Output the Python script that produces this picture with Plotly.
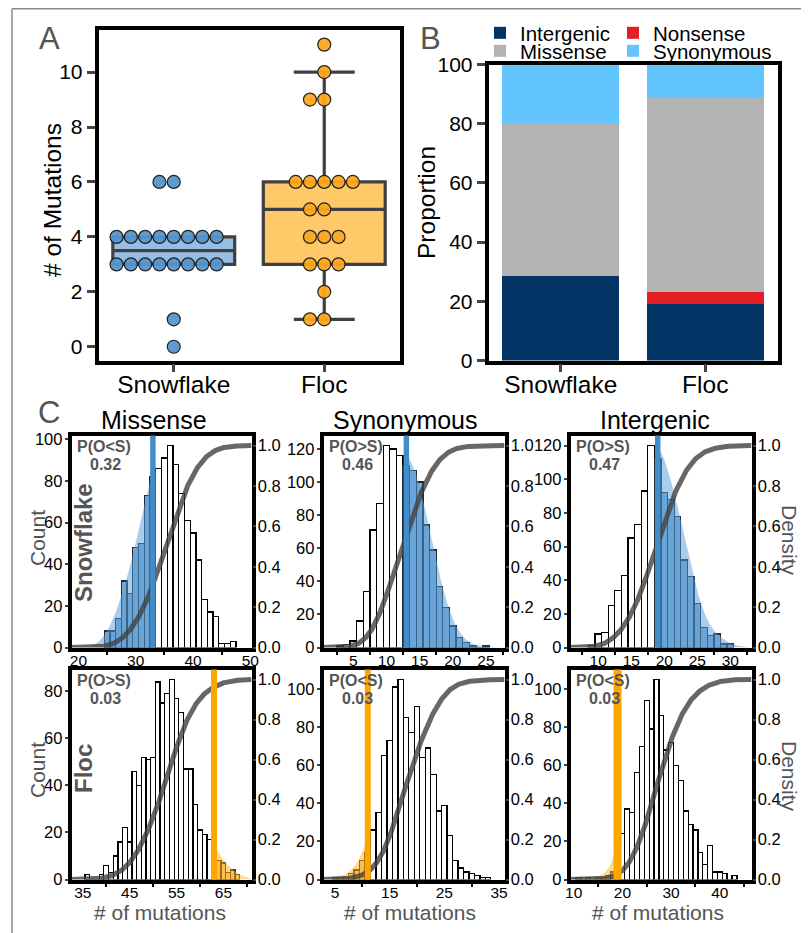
import math
import numpy as np
import plotly.graph_objects as go

# page has an 8px body margin: the figure fills the rest of the 809x933 window
OFF = 8
W, H = 809 - OFF, 933 - OFF

# ---------------- data ----------------
groups = ["Snowflake", "Floc"]
snowflake_mutations = [0, 1, 3, 3, 3, 3, 3, 3, 3, 3, 4, 4, 4, 4, 4, 4, 4, 4, 6, 6]
floc_mutations = [1, 1, 2, 3, 3, 3, 4, 4, 4, 5, 5, 6, 6, 6, 6, 6, 9, 9, 10, 11]

mutation_types = ["Intergenic", "Nonsense", "Missense", "Synonymous"]
snowflake_percent = [28.4, 0.0, 52.0, 19.6]
floc_percent = [19.1, 4.1, 65.5, 11.3]

sim_types = ["Missense", "Synonymous", "Intergenic"]

sf_missense_first_bin = 25
sf_missense_counts = [8, 8, 14, 32, 26, 48, 50, 73, 82, 86, 91, 97, 88, 74, 61, 55, 42, 23, 17, 15, 2, 2, 3]
sf_synonymous_first_bin = 3
sf_synonymous_counts = [1, 2, 4, 16, 34, 71, 87, 122, 120, 116, 110, 107, 100, 74, 59, 37, 24, 13, 6, 3, 1, 0, 1]
sf_intergenic_first_bin = 9
sf_intergenic_counts = [1, 8, 9, 25, 34, 43, 65, 73, 93, 120, 112, 92, 88, 78, 52, 42, 26, 12, 7, 8, 2, 2]

floc_missense_first_bin = 36
floc_missense_counts = [2, 0, 0, 2, 6, 3, 10, 16, 22, 16, 46, 40, 52, 51, 52, 84, 75, 79, 85, 77, 71, 47, 47,
                        32, 21, 19, 17, 12, 8, 7, 3, 4, 2]
floc_synonymous_first_bin = 5
floc_synonymous_counts = [1, 1, 1, 3, 5, 10, 14, 26, 35, 65, 73, 101, 105, 85, 77, 91, 64, 69, 55, 36, 39, 23,
                          10, 6, 4, 3, 2, 1, 1]
floc_intergenic_first_bin = 11
floc_intergenic_counts = [1, 0, 1, 0, 1, 1, 2, 4, 5, 24, 37, 35, 56, 70, 94, 79, 105, 86, 68, 72, 60, 52, 36,
                          29, 26, 14, 8, 18, 4, 4, 3, 0, 2]

sf_observed = [33, 13, 19]
floc_observed = [63, 11, 19]
sf_p_labels = ["P(O<S)", "P(O>S)", "P(O>S)"]
sf_p_values = ["0.32", "0.46", "0.47"]
floc_p_labels = ["P(O>S)", "P(O<S)", "P(O<S)"]
floc_p_values = ["0.03", "0.03", "0.03"]

# ---------------- style ----------------
GRAY = "#555555"
FONT = "Liberation Sans, Arial, sans-serif"
type_colors = ["#033466", "#e31e24", "#b3b3b3", "#63c5fe"]
box_fill = ["rgba(120,172,218,0.78)", "rgba(255,192,80,0.85)"]
point_color = ["rgba(84,150,206,0.95)", "rgba(253,168,30,0.95)"]
tail_bar = ["rgba(70,140,200,0.72)", "rgba(255,170,20,0.55)"]
tail_fill = ["rgba(85,155,215,0.5)", "rgba(255,170,20,0.45)"]
obs_color = ["rgb(66,140,200)", "rgb(255,165,0)"]

sf_xranges = [[18.8, 50.2], [0.5, 27.8], [5.8, 33.2]]
floc_xranges = [[32.6, 71.0], [2.9, 36.0], [9.35, 46.5]]
sf_xticks = [(20, 10), (5, 5), (10, 5)]
floc_xticks = [(35, 10), (5, 10), (10, 10)]
col_px = [(70, 253), (322, 506), (569, 753)]
row_px = [(434, 649), (668, 881)]
obs_widths = [[5.5, 5.5, 5.5], [6, 6, 8]]


def fx(px):
    return (px - OFF) / W


def fy(py):
    return 1 - (py - OFF) / H


def dom_x(l, r):
    return [fx(l + 1.5), fx(r - 1.5)]


def dom_y(t, b):
    return [fy(b - 1.5), fy(t + 1.5)]


def swarm_offsets(values, step):
    seq = [0]
    k = 1
    while len(seq) < 60:
        seq += [-k, k]
        k += 1
    seen = {}
    offs = []
    for v in values:
        c = seen.get(v, 0)
        seen[v] = c + 1
        offs.append(seq[c] * step)
    return offs


erf = np.vectorize(math.erf)

fig = go.Figure()
annotations = []
shapes = []

# ---------------- Panel A ----------------
for i, vals in enumerate([snowflake_mutations, floc_mutations]):
    fig.add_trace(go.Box(
        y=vals, x=[i] * len(vals), width=0.81, boxpoints="outliers",
        marker=dict(opacity=0, size=1),
        fillcolor=box_fill[i], line=dict(color="#404040", width=3.2),
        whiskerwidth=0.5, showlegend=False, xaxis="x", yaxis="y", hoverinfo="skip"))
    offs = swarm_offsets(vals, 0.095)
    fig.add_trace(go.Scatter(
        x=[i + o for o in offs], y=vals, mode="markers",
        marker=dict(size=13, color=point_color[i], line=dict(color="#222222", width=1.2)),
        showlegend=False, xaxis="x", yaxis="y"))

# ---------------- Panel B ----------------
for k, t in enumerate(mutation_types):
    fig.add_trace(go.Bar(
        x=groups, y=[snowflake_percent[k], floc_percent[k]], name=t,
        marker=dict(color=type_colors[k], line=dict(width=0)), width=0.81,
        legendwidth=88 if k % 2 == 0 else 140,
        xaxis="x2", yaxis="y2", legend="legend" if k < 2 else "legend2"))

# ---------------- Panel C ----------------
sim_sets = [
    [(sf_missense_first_bin, sf_missense_counts), (sf_synonymous_first_bin, sf_synonymous_counts),
     (sf_intergenic_first_bin, sf_intergenic_counts)],
    [(floc_missense_first_bin, floc_missense_counts), (floc_synonymous_first_bin, floc_synonymous_counts),
     (floc_intergenic_first_bin, floc_intergenic_counts)],
]
observed = [sf_observed, floc_observed]
p_labels = [sf_p_labels, floc_p_labels]
p_values = [sf_p_values, floc_p_values]
xranges = [sf_xranges, floc_xranges]
xticks = [sf_xticks, floc_xticks]

layout_axes = {}
for r in range(2):
    for c in range(3):
        idx = r * 3 + c
        xa = 3 + idx
        ya = 3 + idx
        ya2 = 9 + idx
        first, counts = sim_sets[r][c]
        counts = np.array(counts)
        bins = first + np.arange(len(counts))
        obs = observed[r][c]
        left_tail = "<" in p_labels[r][c]
        mask = bins <= obs if left_tail else bins >= obs
        xr = xranges[r][c]

        # smoothed density of the simulated counts (kernel estimate) and its cumulative curve
        samples = np.repeat(bins, counts).astype(float)
        n = len(samples)
        bw = 1.5 * 1.06 * samples.std(ddof=1) * n ** (-0.2)
        grid = np.linspace(xr[0], xr[1], 500)
        z = (grid[:, None] - samples[None, :]) / bw
        dens = np.exp(-0.5 * z ** 2).sum(axis=1)
        scale = counts.max() / dens.max()
        dens = dens * scale
        cdf = 0.5 * (1 + erf(z / math.sqrt(2))).mean(axis=1)

        tmask = grid <= obs if left_tail else grid >= obs
        tx = list(grid[tmask])
        ty = list(dens[tmask])
        obs_d = float(np.exp(-0.5 * ((obs - samples) / bw) ** 2).sum() * scale)
        if left_tail:
            tx.append(obs)
            ty.append(obs_d)
        else:
            tx.insert(0, obs)
            ty.insert(0, obs_d)

        fig.add_trace(go.Bar(
            x=bins[~mask], y=counts[~mask], width=1.0,
            marker=dict(color="white", line=dict(color="black", width=1.3)),
            showlegend=False, xaxis=f"x{xa}", yaxis=f"y{ya}"))
        fig.add_trace(go.Bar(
            x=bins[mask], y=counts[mask], width=1.0,
            marker=dict(color=tail_bar[r], line=dict(color="#1d2a36" if r == 0 else "#4a3a1a", width=1.3)),
            showlegend=False, xaxis=f"x{xa}", yaxis=f"y{ya}"))
        fig.add_trace(go.Scatter(
            x=tx, y=ty, mode="lines", line=dict(width=0), fill="tozeroy", fillcolor=tail_fill[r],
            showlegend=False, xaxis=f"x{xa}", yaxis=f"y{ya}", hoverinfo="skip"))
        fig.add_trace(go.Scatter(
            x=grid, y=cdf, mode="lines", line=dict(color="rgba(65,65,65,0.8)", width=5),
            showlegend=False, xaxis=f"x{xa}", yaxis=f"y{ya2}"))

        shapes.append(dict(type="line", xref=f"x{xa}", yref=f"y{ya} domain", x0=obs, x1=obs, y0=0, y1=1,
                           line=dict(color=obs_color[r], width=obs_widths[r][c]), layer="above"))

        l, rr = col_px[c]
        t, b = row_px[r]
        t0, dt = xticks[r][c]
        layout_axes[f"xaxis{xa}"] = dict(
            domain=dom_x(l, rr), anchor=f"y{ya}", range=xr, tick0=t0, dtick=dt, ticks="",
            minor=dict(ticks="outside", tick0=t0 + dt / 2, dtick=dt, ticklen=4, tickwidth=2, tickcolor="black"),
            showline=True, mirror=True, linewidth=3.5, linecolor="black", showgrid=False, zeroline=False,
            ticklabelstandoff=-4, tickfont=dict(size=15.5, color="black", family=FONT))
        layout_axes[f"yaxis{ya}"] = dict(
            domain=dom_y(t, b), anchor=f"x{xa}", range=[0, counts.max() * 1.05], dtick=20,
            ticks="outside", ticklen=3, tickwidth=2, showline=True, mirror=True, linewidth=3.5,
            linecolor="black", showgrid=False, zeroline=False, ticklabelstandoff=-1,
            tickfont=dict(size=16.5, color="black", family=FONT))
        layout_axes[f"yaxis{ya2}"] = dict(
            overlaying=f"y{ya}", anchor=f"x{xa}", side="right", range=[0, 1.05], dtick=0.2,
            tickformat=".1f", ticks="outside", ticklen=3, tickwidth=2, showline=False, showgrid=False,
            zeroline=False, ticklabelstandoff=-1, tickfont=dict(size=16.5, color="black", family=FONT))

        annotations.append(dict(xref="paper", yref="paper", x=fx(l + 34), y=fy(t + 12),
                                text=f"<b>{p_labels[r][c]}</b>", showarrow=False, xanchor="center",
                                yanchor="middle", font=dict(size=16, color=GRAY, family=FONT)))
        annotations.append(dict(xref="paper", yref="paper", x=fx(l + 35), y=fy(t + 30),
                                text=f"<b>{p_values[r][c]}</b>", showarrow=False, xanchor="center",
                                yanchor="middle", font=dict(size=16, color=GRAY, family=FONT)))


# ---------------- text ----------------
def ann(x, y, text, size, color="black", angle=0, bold=False):
    annotations.append(dict(xref="paper", yref="paper", x=fx(x), y=fy(y),
                            text=f"<b>{text}</b>" if bold else text, showarrow=False,
                            xanchor="center", yanchor="middle", textangle=angle,
                            font=dict(size=size, color=color, family=FONT)))


ann(49, 39, "A", 31, GRAY)
ann(431, 39, "B", 31, GRAY)
ann(49, 412, "C", 31, GRAY)
ann(52, 200, "# of Mutations", 24.5, angle=-90)
ann(427, 202, "Proportion", 24.5, angle=-90)
for cx, name in zip([154, 405, 655], sim_types):
    ann(cx, 420, name, 25)
ann(83, 543, "Snowflake", 24, GRAY, -90, True)
ann(83, 769, "Floc", 24, GRAY, -90, True)
ann(37, 538, "Count", 21, GRAY, -90)
ann(37, 770, "Count", 21, GRAY, -90)
ann(790, 540, "Density", 21, GRAY, 90)
ann(790, 776, "Density", 21, GRAY, 90)
for cx in [160, 410, 658]:
    ann(cx, 912, "# of mutations", 21, GRAY)

# outer gray frame (left and top rules)
shapes.append(dict(type="line", xref="paper", yref="paper", x0=fx(12), x1=fx(12), y0=0, y1=fy(8.75),
                   line=dict(color="#8a8a8a", width=1.5)))
shapes.append(dict(type="line", xref="paper", yref="paper", x0=fx(12), x1=1, y0=fy(8.75), y1=fy(8.75),
                   line=dict(color="#8a8a8a", width=1.5)))

legend_common = dict(orientation="h", x=fx(480), xanchor="left", yanchor="middle", entrywidth=88,
                     traceorder="normal", font=dict(size=20.5, color="black", family=FONT),
                     bgcolor="rgba(0,0,0,0)", tracegroupgap=0, itemclick=False, itemdoubleclick=False)

fig.update_layout(
    width=W, height=H, margin=dict(l=0, r=0, t=0, b=0, autoexpand=False),
    paper_bgcolor="white", plot_bgcolor="white",
    font=dict(family=FONT, color="black"),
    barmode="stack", showlegend=True,
    xaxis=dict(domain=dom_x(97, 401), anchor="y", range=[-0.5, 1.5], tickvals=[0, 1], ticktext=groups,
               ticks="outside", ticklen=8, tickwidth=3, showline=True, mirror=True, linewidth=3.5,
               linecolor="black", showgrid=False, zeroline=False, ticklabelstandoff=-9,
               tickfont=dict(size=24.5, color="black", family=FONT)),
    yaxis=dict(domain=dom_y(28, 362), anchor="x", range=[-0.5, 11.55], dtick=2, ticks="outside",
               ticklen=8, tickwidth=3, showline=True, mirror=True, linewidth=3.5, linecolor="black",
               showgrid=False, zeroline=False, tickfont=dict(size=21, color="black", family=FONT)),
    xaxis2=dict(domain=dom_x(487, 779), anchor="y2", type="category", ticks="outside", ticklen=8,
                tickwidth=3, showline=True, mirror=True, linewidth=3.5, linecolor="black",
                showgrid=False, zeroline=False, ticklabelstandoff=-9,
                tickfont=dict(size=24.5, color="black", family=FONT)),
    yaxis2=dict(domain=dom_y(63, 362), anchor="x2", range=[0, 100], dtick=20, ticks="outside", ticklen=8,
                tickwidth=3, showline=True, mirror=True, linewidth=3.5, linecolor="black",
                showgrid=False, zeroline=False, tickfont=dict(size=21, color="black", family=FONT)),
    legend=dict(y=fy(33), **legend_common),
    legend2=dict(y=fy(51), **legend_common),
    annotations=annotations, shapes=shapes,
    **layout_axes,
)

fig.write_html("out.html")
